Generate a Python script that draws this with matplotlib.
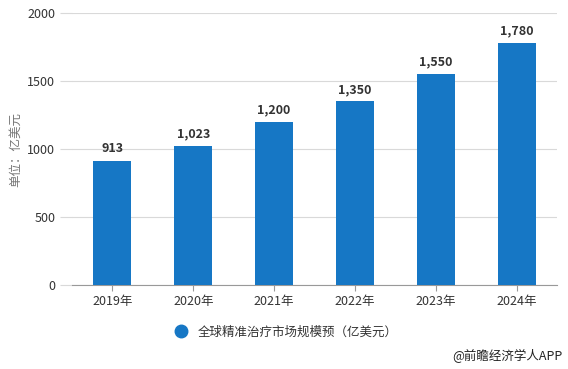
import matplotlib
matplotlib.use('Agg')
import matplotlib.pyplot as plt

# Data:
years = ['2019年', '2020年', '2021年', '2022年', '2023年', '2024年']
marketSize = [913, 1023, 1200, 1350, 1550, 1780]
yTicks = [0, 500, 1000, 1500, 2000]

plt.rcParams['font.family'] = ['Noto Sans CJK SC', 'DejaVu Sans']

barColor = '#1677c5'
textColor = '#333333'
gridColor = '#d9d9d9'

fig = plt.figure(figsize=(5.68, 3.69), dpi=100)
ax = fig.add_axes([0.1268, 0.2276, 0.8538, 0.7372])

xPos = list(range(len(years)))
bars = ax.bar(xPos, marketSize, width=0.47, color=barColor, zorder=3,
              label='全球精准治疗市场规模预（亿美元）')

# Value labels:
for xp, val in zip(xPos, marketSize):
    ax.text(xp, val + 40, f'{val:,}', ha='center', va='bottom',
            fontsize=9, fontweight='bold', color=textColor)

ax.set_xlim(-0.5, len(years) - 0.5)
ax.set_ylim(0, 2000)
ax.set_yticks(yTicks)
ax.set_xticks(xPos)
ax.set_xticklabels(years)

ax.grid(axis='y', color=gridColor, linewidth=0.8, zorder=0)
for side in ['left', 'right', 'top']:
    ax.spines[side].set_visible(False)
ax.spines['bottom'].set_color('#999999')
ax.tick_params(axis='y', length=9, color=gridColor, labelsize=9, labelcolor=textColor, pad=3)
ax.tick_params(axis='x', length=4, color='#999999', labelsize=9, labelcolor=textColor, pad=3)

ax.set_ylabel('单位：亿美元', fontsize=9, color='#777777', labelpad=4)

# Legend:
fig.legend(handles=[plt.Line2D([], [], marker='o', linestyle='', markersize=9, color=barColor)],
           labels=['全球精准治疗市场规模预（亿美元）'], loc='center left',
           bbox_to_anchor=(0.277, 0.1), frameon=False, fontsize=9,
           handletextpad=0.3, labelcolor=textColor)

fig.text(0.99, 0.035, '@前瞻经济学人APP', ha='right', va='center', fontsize=9, color='#222222')

fig.savefig('out.png', dpi=100)
